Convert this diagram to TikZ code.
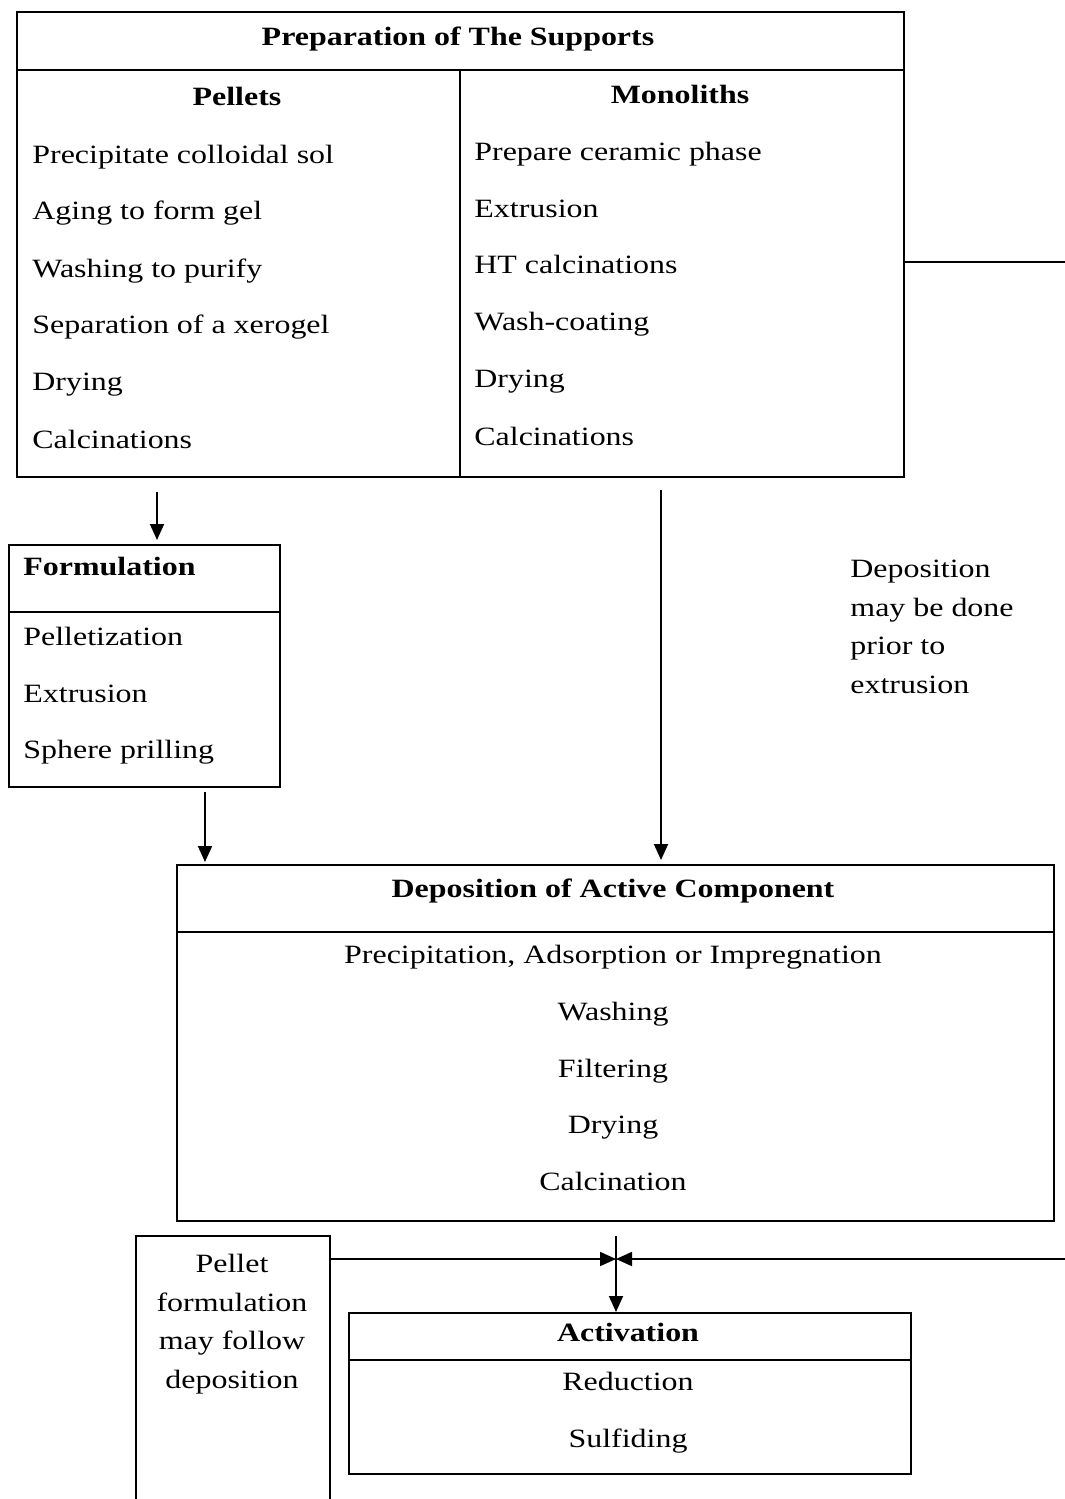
\documentclass[tikz,border=0pt]{standalone}
\usepackage{fontspec}
\setmainfont[FakeStretch=1.21]{Liberation Serif}
\usetikzlibrary{arrows.meta}

\begin{document}
\begin{tikzpicture}[
    x=0.5pt, y=-0.5pt,
    every node/.style={font=\fontsize{13.2}{19.2}\selectfont, inner sep=0pt},
    box/.style={draw, line width=0.9pt, anchor=north west},
    head/.style={font=\fontsize{13.2}{19.2}\selectfont\bfseries, anchor=base},
    item/.style={anchor=base west},
    citem/.style={anchor=base},
    note/.style={align=center},
    rule/.style={line width=0.9pt},
    arr/.style={-{Triangle[length=8pt,width=7pt]}, line width=0.9pt}
  ]
    \useasboundingbox (0,0) rectangle (1065,1499);

    % preparation of the supports
    \node[box, minimum width=443.5pt, minimum height=232.5pt] (supports) at (16,11) {};
    \draw[rule] (supports.west |- 0,70) -- (supports.east |- 0,70);
    \draw[rule] (460,70) -- (supports.south -| 460,0);
    \node[head] (title) at (458,45) {Preparation of The Supports};
    \node[head] (pellets) at (237,105) {Pellets};
    \node[head] (monoliths) at (680,103) {Monoliths};
    \node[item] (p1) at (32,163) {Precipitate colloidal sol};
    \node[item] (p2) at (32,219) {Aging to form gel};
    \node[item] (p3) at (32,277) {Washing to purify};
    \node[item] (p4) at (32,333) {Separation of a xerogel};
    \node[item] (p5) at (32,390) {Drying};
    \node[item] (p6) at (32,448) {Calcinations};
    \node[item] (m1) at (474,160) {Prepare ceramic phase};
    \node[item] (m2) at (474,217) {Extrusion};
    \node[item] (m3) at (474,273) {HT calcinations};
    \node[item] (m4) at (474,330) {Wash-coating};
    \node[item] (m5) at (474,387) {Drying};
    \node[item] (m6) at (474,445) {Calcinations};

    % formulation
    \node[box, minimum width=135.5pt, minimum height=121pt] (formulation) at (8,544) {};
    \draw[rule] (formulation.west |- 0,612) -- (formulation.east |- 0,612);
    \node[head, anchor=base west] (formhead) at (23,575) {Formulation};
    \node[item] (f1) at (23,645) {Pelletization};
    \node[item] (f2) at (23,702) {Extrusion};
    \node[item] (f3) at (23,758) {Sphere prilling};

    \node[note, anchor=base west, align=left] (depnote) at (850,693) {Deposition\\may be done\\prior to\\extrusion};

    % deposition of active component
    \node[box, minimum width=438.5pt, minimum height=178pt] (deposition) at (176,864) {};
    \draw[rule] (deposition.west |- 0,932) -- (deposition.east |- 0,932);
    \node[head] (dephead) at (613,897) {Deposition of Active Component};
    \node[citem] (d1) at (613,963) {Precipitation, Adsorption or Impregnation};
    \node[citem] (d2) at (613,1020) {Washing};
    \node[citem] (d3) at (613,1077) {Filtering};
    \node[citem] (d4) at (613,1133) {Drying};
    \node[citem] (d5) at (613,1190) {Calcination};

    % pellet formulation afterwards
    \node[minimum width=96.5pt, minimum height=131.5pt, anchor=north west] (pellet) at (136,1236) {};
    \draw[rule] (pellet.south west) |- (pellet.north east) -- (pellet.south east);
    \node[note, anchor=base] (pellettext) at (232,1388) {Pellet\\formulation\\may follow\\deposition};

    % activation
    \node[box, minimum width=281pt, minimum height=80.5pt] (activation) at (348,1312) {};
    \draw[rule] (activation.west |- 0,1360) -- (activation.east |- 0,1360);
    \node[head] (acthead) at (628,1341) {Activation};
    \node[citem] (a1) at (628,1390) {Reduction};
    \node[citem] (a2) at (628,1447) {Sulfiding};

    % connectors
    \coordinate (outtop) at (1065,262);
    \coordinate (outbot) at (1065,1259);
    \coordinate (join) at (616,1259);
    \coordinate (tick) at (616,1236);
    \draw[rule] (supports.east |- outtop) -- (outtop);
    \draw[arr, shorten <=7pt, shorten >=2pt] (supports.south -| 157,0) -- (formulation.north -| 157,0);
    \draw[arr, shorten <=2pt, shorten >=1pt] (formulation.south -| 205,0) -- (deposition.north -| 205,0);
    \draw[arr, shorten <=6pt, shorten >=2pt] (supports.south -| 661,0) -- (deposition.north -| 661,0);
    \draw[arr] (pellet.east |- join) -- (join);
    \draw[arr] (outbot) -- (join);
    \draw[arr] (tick) -- (activation.north -| join);
  \end{tikzpicture}
\end{document}
